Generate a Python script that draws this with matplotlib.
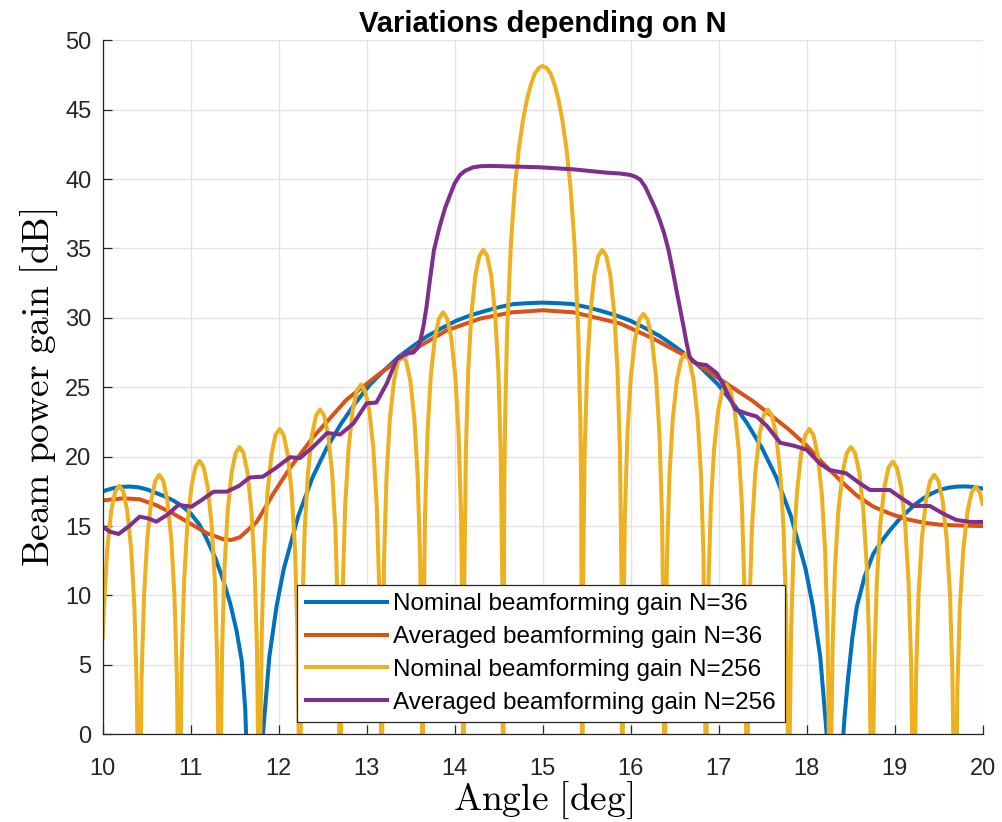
import matplotlib
matplotlib.use('Agg')
import matplotlib.pyplot as plt

plt.rcParams['font.family'] = ['Liberation Sans', 'DejaVu Sans']
plt.rcParams['mathtext.fontset'] = 'cm'

# values (dB, below-zero nulls are clipped by the axes)
angle_nom36 = [10.0, 10.1, 10.2, 10.3, 10.4, 10.5, 10.6, 10.7, 10.8, 10.9,
               11.0, 11.1, 11.18, 11.28, 11.37, 11.45, 11.52, 11.58, 11.62, 11.66, 11.73,
               11.812, 11.894, 11.975, 12.057, 12.221, 12.384, 12.548, 12.711, 12.875, 13.038,
               13.202, 13.365, 13.529, 13.692, 13.856, 14.019, 14.183, 14.346, 14.51, 14.673,
               14.837, 15.0,
               15.166, 15.332, 15.498, 15.664, 15.83, 15.996, 16.162, 16.328, 16.494, 16.66,
               16.826, 16.992, 17.158, 17.324, 17.49, 17.656, 17.822, 17.988, 18.071, 18.154,
               18.237, 18.32,
               18.40, 18.43, 18.47, 18.52, 18.57, 18.66, 18.757, 18.85, 18.946, 19.04,
               19.136, 19.23, 19.325, 19.42, 19.51, 19.60, 19.70, 19.80, 19.90, 20.0]
gain_nom36 = [17.5, 17.7, 17.82, 17.85, 17.8, 17.65, 17.4, 17.15, 16.85, 16.45,
              15.9, 15.1, 14.1, 12.7, 11.1, 9.4, 7.5, 5.3, 1.8, -6.0, -10,
              -0.7, 5.6, 9.2, 11.9, 15.7, 18.5, 20.65, 22.4, 23.9, 25.2,
              26.24, 27.2, 27.98, 28.7, 29.27, 29.8, 30.19, 30.5, 30.78, 31.0,
              31.06, 31.1,
              31.06, 31.0, 30.78, 30.5, 30.19, 29.8, 29.27, 28.7, 27.98, 27.2,
              26.24, 25.2, 23.9, 22.4, 20.65, 18.5, 15.7, 11.9, 9.2, 5.6,
              -0.7, -10,
              -1.5, 1.2, 4.0, 7.0, 9.2, 11.4, 13.0, 13.9, 14.7, 15.4,
              16.0, 16.55, 17.0, 17.35, 17.6, 17.75, 17.84, 17.86, 17.82, 17.7]

angle_avg36 = [10.0, 10.23, 10.42, 10.61, 10.80, 10.99, 11.18, 11.37, 11.46, 11.56, 11.75,
               11.94, 12.13, 12.39, 12.77, 13.15, 13.53, 13.91, 14.29, 14.65, 15.0, 15.35,
               15.88, 16.26, 16.64, 17.01, 17.39, 17.79, 18.0, 18.19, 18.38, 18.57, 18.757,
               18.946, 19.136, 19.325, 19.51, 19.70, 20.0]
gain_avg36 = [16.85, 17.0, 16.93, 16.5, 15.9, 15.2, 14.5, 14.05, 14.0, 14.2, 15.3,
              17.35, 19.2, 21.4, 24.1, 26.0, 27.7, 29.1, 29.95, 30.4, 30.55, 30.4,
              29.6, 28.5, 27.2, 25.6, 24.0, 22.0, 20.8, 19.5, 18.3, 17.2, 16.4,
              15.9, 15.5, 15.25, 15.1, 15.05, 15.0]

# one row per lobe, from one null to the next
angle_nom256 = [
    10.000, 10.015, 10.051, 10.097, 10.142, 10.188, 10.233, 10.279, 10.324, 10.360, 10.387, 10.405, 10.415,
    10.424, 10.442, 10.470, 10.506, 10.552, 10.597, 10.643, 10.688, 10.734, 10.779, 10.815, 10.843, 10.861, 10.870,
    10.879, 10.898, 10.925, 10.962, 11.008, 11.054, 11.100, 11.146, 11.192, 11.238, 11.275, 11.302, 11.321, 11.330,
    11.339, 11.357, 11.384, 11.420, 11.465, 11.510, 11.555, 11.600, 11.645, 11.690, 11.726, 11.753, 11.771, 11.780,
    11.789, 11.808, 11.835, 11.872, 11.918, 11.964, 12.010, 12.056, 12.102, 12.148, 12.185, 12.212, 12.231, 12.240,
    12.249, 12.268, 12.295, 12.332, 12.378, 12.424, 12.470, 12.516, 12.562, 12.608, 12.645, 12.672, 12.691, 12.700,
    12.709, 12.728, 12.756, 12.794, 12.841, 12.888, 12.935, 12.982, 13.029, 13.076, 13.114, 13.142, 13.161, 13.170,
    13.179, 13.198, 13.226, 13.263, 13.310, 13.356, 13.403, 13.449, 13.496, 13.542, 13.579, 13.607, 13.626, 13.635,
    13.644, 13.663, 13.691, 13.728, 13.775, 13.821, 13.868, 13.914, 13.961, 14.007, 14.044, 14.072, 14.091, 14.100,
    14.109, 14.127, 14.154, 14.190, 14.235, 14.280, 14.325, 14.370, 14.415, 14.460, 14.496, 14.523, 14.541, 14.550,
    14.564, 14.573, 14.595, 14.640, 14.685, 14.730, 14.775, 14.820, 14.865, 14.910, 14.955, 15.000,
    15.045, 15.090, 15.135, 15.180, 15.225, 15.270, 15.315, 15.360, 15.405, 15.428, 15.437, 15.450,
    15.459, 15.477, 15.505, 15.541, 15.587, 15.632, 15.678, 15.723, 15.769, 15.814, 15.850, 15.878, 15.896, 15.905,
    15.915, 15.934, 15.963, 16.001, 16.049, 16.097, 16.145, 16.193, 16.241, 16.289, 16.327, 16.356, 16.375, 16.385,
    16.394, 16.413, 16.441, 16.479, 16.526, 16.573, 16.620, 16.667, 16.714, 16.761, 16.799, 16.827, 16.846, 16.855,
    16.864, 16.883, 16.911, 16.948, 16.995, 17.041, 17.088, 17.134, 17.181, 17.227, 17.264, 17.292, 17.311, 17.320,
    17.330, 17.349, 17.377, 17.415, 17.463, 17.510, 17.558, 17.605, 17.653, 17.700, 17.738, 17.767, 17.786, 17.795,
    17.804, 17.823, 17.851, 17.889, 17.936, 17.983, 18.030, 18.077, 18.124, 18.171, 18.209, 18.237, 18.256, 18.265,
    18.275, 18.294, 18.322, 18.360, 18.408, 18.455, 18.503, 18.550, 18.598, 18.645, 18.683, 18.712, 18.731, 18.740,
    18.750, 18.769, 18.797, 18.835, 18.883, 18.930, 18.978, 19.025, 19.073, 19.120, 19.158, 19.187, 19.206, 19.215,
    19.224, 19.243, 19.271, 19.309, 19.356, 19.403, 19.450, 19.497, 19.544, 19.591, 19.629, 19.657, 19.676, 19.685,
    19.694, 19.713, 19.741, 19.779, 19.826, 19.873, 19.920, 19.967, 20.000,
]
gain_nom256 = [
    6.9, 9.2, 13.3, 16.1, 17.5, 17.9, 17.5, 16.1, 13.3, 9.2, 3.4, -6.1, -10,
    -5.3, 4.16, 10.02, 14.08, 16.86, 18.26, 18.7, 18.26, 16.86, 14.08, 10.02, 4.16, -5.3, -10,
    -4.3, 5.16, 11.02, 15.08, 17.86, 19.26, 19.7, 19.26, 17.86, 15.08, 11.02, 5.16, -4.3, -10,
    -3.3, 6.16, 12.02, 16.08, 18.86, 20.26, 20.7, 20.26, 18.86, 16.08, 12.02, 6.16, -3.3, -10,
    -2.0, 7.46, 13.32, 17.38, 20.16, 21.56, 22.0, 21.56, 20.16, 17.38, 13.32, 7.46, -2.0, -10,
    -0.6, 8.86, 14.72, 18.78, 21.56, 22.96, 23.4, 22.96, 21.56, 18.78, 14.72, 8.86, -0.6, -10,
    1.2, 10.66, 16.52, 20.58, 23.36, 24.76, 25.2, 24.76, 23.36, 20.58, 16.52, 10.66, 1.2, -10,
    3.3, 12.76, 18.62, 22.68, 25.46, 26.86, 27.3, 26.86, 25.46, 22.68, 18.62, 12.76, 3.3, -10,
    6.4, 15.86, 21.72, 25.78, 28.56, 29.96, 30.4, 29.96, 28.56, 25.78, 21.72, 15.86, 6.4, -10,
    10.9, 20.36, 26.22, 30.28, 33.06, 34.46, 34.9, 34.46, 33.06, 30.28, 26.22, 20.36, 10.9, -10,
    18.0, 22.6, 28.9, 35.5, 39.5, 42.2, 44.2, 45.7, 46.8, 47.6, 48.0, 48.15,
    48.0, 47.6, 46.8, 45.7, 44.2, 42.2, 39.5, 35.5, 28.9, 22.6, 18.0, -10,
    10.9, 20.36, 26.22, 30.28, 33.06, 34.46, 34.9, 34.46, 33.06, 30.28, 26.22, 20.36, 10.9, -10,
    6.3, 15.76, 21.62, 25.68, 28.46, 29.86, 30.3, 29.86, 28.46, 25.68, 21.62, 15.76, 6.3, -10,
    3.4, 12.86, 18.72, 22.78, 25.56, 26.96, 27.4, 26.96, 25.56, 22.78, 18.72, 12.86, 3.4, -10,
    1.2, 10.66, 16.52, 20.58, 23.36, 24.76, 25.2, 24.76, 23.36, 20.58, 16.52, 10.66, 1.2, -10,
    -0.6, 8.86, 14.72, 18.78, 21.56, 22.96, 23.4, 22.96, 21.56, 18.78, 14.72, 8.86, -0.6, -10,
    -2.0, 7.46, 13.32, 17.38, 20.16, 21.56, 22.0, 21.56, 20.16, 17.38, 13.32, 7.46, -2.0, -10,
    -3.3, 6.16, 12.02, 16.08, 18.86, 20.26, 20.7, 20.26, 18.86, 16.08, 12.02, 6.16, -3.3, -10,
    -4.35, 5.11, 10.97, 15.03, 17.81, 19.21, 19.65, 19.21, 17.81, 15.03, 10.97, 5.11, -4.35, -10,
    -5.3, 4.16, 10.02, 14.08, 16.86, 18.26, 18.7, 18.26, 16.86, 14.08, 10.02, 4.16, -5.3, -10,
    -6.15, 3.31, 9.17, 13.23, 16.01, 17.41, 17.85, 17.41, 16.6,
]

angle_avg256 = [10.0, 10.08, 10.18, 10.30, 10.42, 10.52, 10.61, 10.73, 10.86, 11.01, 11.13,
                11.26, 11.41, 11.55, 11.67, 11.82, 11.97, 12.13, 12.24, 12.39, 12.55, 12.70,
                12.85, 13.0, 13.11, 13.23, 13.34, 13.45, 13.53, 13.58, 13.61, 13.645, 13.68,
                13.72, 13.765, 13.83, 13.89, 13.95, 14.0, 14.06, 14.12, 14.21, 14.30, 14.40,
                14.97, 15.35, 15.73, 15.88, 15.995, 16.06, 16.11, 16.165, 16.22, 16.275, 16.33,
                16.38, 16.43, 16.475, 16.52, 16.56, 16.60, 16.635, 16.67, 16.71, 16.75, 16.86,
                16.98, 17.05, 17.19, 17.32, 17.43, 17.55, 17.70, 17.85, 18.0, 18.15, 18.26,
                18.45, 18.60, 18.72, 18.946, 19.08, 19.21, 19.40, 19.55, 19.70, 19.86, 20.0]
gain_avg256 = [14.96, 14.6, 14.43, 15.0, 15.68, 15.55, 15.32, 15.8, 16.52, 16.4, 16.9,
               17.48, 17.48, 17.9, 18.5, 18.56, 19.2, 19.96, 19.9, 20.7, 21.7, 21.6,
               22.4, 23.85, 23.9, 25.3, 27.0, 27.45, 27.5, 27.85, 28.4, 29.4, 30.8,
               32.8, 34.9, 36.6, 37.9, 38.9, 39.7, 40.3, 40.6, 40.85, 40.93, 40.95,
               40.85, 40.7, 40.46, 40.4, 40.3, 40.15, 39.95, 39.45, 38.7, 37.95, 37.05,
               36.1, 34.9, 33.5, 32.0, 30.7, 29.4, 28.2, 27.2, 26.85, 26.7, 26.6,
               26.0, 25.2, 23.4, 23.1, 22.9, 22.2, 21.0, 20.8, 20.5, 19.5, 19.04,
               18.8, 18.1, 17.6, 17.6, 17.0, 16.45, 16.45, 15.9, 15.44, 15.3, 15.3]

series = [
    (angle_nom36, gain_nom36, 'Nominal beamforming gain N=36', '#0072BD'),
    (angle_avg36, gain_avg36, 'Averaged beamforming gain N=36', '#D95319'),
    (angle_nom256, gain_nom256, 'Nominal beamforming gain N=256', '#EDB120'),
    (angle_avg256, gain_avg256, 'Averaged beamforming gain N=256', '#7E2F8E'),
]

fig = plt.figure(figsize=(10.02, 8.22), dpi=100, facecolor='w')
ax = fig.add_axes([0.1025, 0.1067, 0.8782, 0.8443])

for x, y, name, color in series:
    ax.plot(x, y, color=color, linewidth=2.9, label=name, solid_joinstyle='round')

ax.set_xlim(10, 20)
ax.set_ylim(0, 50)
ax.set_xticks(range(10, 21))
ax.set_yticks(range(0, 51, 5))
ax.grid(True, color='#e3e3e3', linewidth=1.0)
ax.set_axisbelow(True)

for side in ['top', 'right']:
    ax.spines[side].set_visible(False)
for side in ['left', 'bottom']:
    ax.spines[side].set_color('#262626')
    ax.spines[side].set_linewidth(0.9)
ax.tick_params(direction='in', length=6.5, width=0.9, color='#262626',
               labelcolor='#262626', labelsize=17)
ax.tick_params(axis='x', pad=17)
ax.tick_params(axis='y', pad=8)

ax.set_title('Variations depending on N', fontsize=21, fontweight='bold', pad=6)
ax.set_xlabel(r'$\mathrm{Angle\ [deg]}$', fontsize=27, labelpad=0)
ax.set_ylabel(r'$\mathrm{Beam\ power\ gain\ [dB]}$', fontsize=27, labelpad=4)

legend = ax.legend(loc='lower left', bbox_to_anchor=(0.2208, 0.0177), borderaxespad=0.,
                   fontsize=17.5, handlelength=3.37, handletextpad=0.25, labelspacing=0.44,
                   borderpad=0.35, fancybox=False, framealpha=1.0)
legend.get_frame().set_edgecolor('#262626')
legend.get_frame().set_linewidth(0.9)

fig.savefig('out.png', dpi=100)
